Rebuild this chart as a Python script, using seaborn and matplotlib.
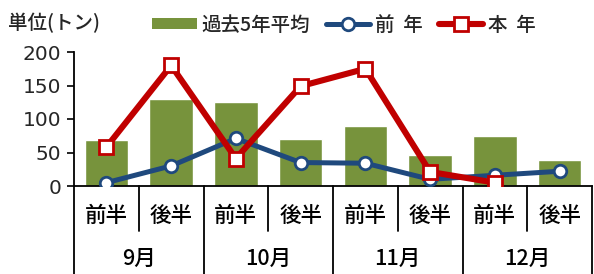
import numpy as np
import pandas as pd
import matplotlib
matplotlib.use("Agg")
import matplotlib.pyplot as plt
import matplotlib.transforms as mtransforms
from matplotlib.patches import Patch
from matplotlib.lines import Line2D
import seaborn as sns

# data
months = ['9月', '10月', '11月', '12月']
halves = ['前半', '後半']
avg5 = [69, 130, 125, 70, 90, 47, 74, 39]          # 過去5年平均
prev_year = [5, 30, 71, 35, 34, 10, 16, 22]         # 前 年
this_year = [58, 180, 41, 149, 175, 21, 5, np.nan]  # 本 年

sns.set_theme(style='white')
plt.rcParams['font.family'] = ['Noto Sans CJK JP', 'DejaVu Sans']
plt.rcParams['font.weight'] = 'medium'

periods = [m + h for m in months for h in halves]
df = pd.DataFrame({'period': periods, 'avg5': avg5,
                   'prev': prev_year, 'this': this_year})
pos = np.arange(len(periods))

W, H = 594, 274
fig = plt.figure(figsize=(W / 100, H / 100), dpi=100)
ax_l, ax_r, ax_b, ax_t = 74, 592, 186, 52
ax = fig.add_axes([ax_l / W, 1 - ax_b / H, (ax_r - ax_l) / W, (ax_b - ax_t) / H])

green = '#77933C'
blue = '#1F497D'
red = '#C00000'

sns.barplot(data=df, x='period', y='avg5', color=green, width=0.67,
            saturation=1, ax=ax, zorder=1)
sns.lineplot(x=pos, y=df['prev'].values, color=blue, lw=3.6, marker='o',
             markersize=9, markerfacecolor='white', markeredgecolor=blue,
             markeredgewidth=2, ax=ax, zorder=3)
sns.lineplot(x=pos, y=df['this'].values, color=red, lw=4.4, marker='s',
             markersize=9.5, markerfacecolor='white', markeredgecolor=red,
             markeredgewidth=2, ax=ax, zorder=4)

ax.set_xlim(-0.5, len(periods) - 0.5)
ax.set_ylim(0, 200)
ax.set_yticks([0, 50, 100, 150, 200])
ax.set_yticklabels(['0', '50', '100', '150', '200'],
                   fontfamily='DejaVu Sans', fontsize=14.5)
ax.set_xticks([])
ax.set_xlabel('')
ax.set_ylabel('')
ax.tick_params(axis='y', direction='out', length=5, width=1.2, color='black',
               pad=4, left=True)
for s in ['top', 'right']:
    ax.spines[s].set_visible(False)
for s in ['left', 'bottom']:
    ax.spines[s].set_color('black')
    ax.spines[s].set_linewidth(1.3)

# two-level category axis
trans = mtransforms.blended_transform_factory(ax.transData, ax.transAxes)
axh = ax_b - ax_t
y_half = -(231 - ax_b) / axh
y_month = -(H - ax_b) / axh
for i in range(len(periods) + 1):
    x = i - 0.5
    y_end = y_month if i % 2 == 0 else y_half
    ax.plot([x, x], [0, y_end], color='black', lw=1.3, transform=trans,
            clip_on=False)
for i, p in enumerate(periods):
    ax.text(i, -(216 - ax_b) / axh, halves[i % 2], transform=trans,
            ha='center', va='center', fontsize=15.5, color='black')
for j, m in enumerate(months):
    ax.text(2 * j + 0.5, -(259 - ax_b) / axh, m, transform=trans,
            ha='center', va='center', fontsize=15.5, color='black')

fig.text(8 / W, 1 - 23 / H, '単位(トン)', ha='left', va='center', fontsize=14)

handles = [
    Patch(facecolor=green, edgecolor='none'),
    Line2D([], [], color=blue, lw=3.6, marker='o', markersize=9,
           markerfacecolor='white', markeredgecolor=blue, markeredgewidth=2),
    Line2D([], [], color=red, lw=4.4, marker='s', markersize=9.5,
           markerfacecolor='white', markeredgecolor=red, markeredgewidth=2),
]
fig.legend(handles, ['過去5年平均', '前  年', '本  年'], loc='center left',
           bbox_to_anchor=(152 / W, 1 - 25 / H), ncol=3, frameon=False,
           fontsize=14, handlelength=2.3, handleheight=0.55,
           handletextpad=0.25, columnspacing=0.8, borderpad=0, borderaxespad=0)

fig.savefig('out.png', dpi=100)
